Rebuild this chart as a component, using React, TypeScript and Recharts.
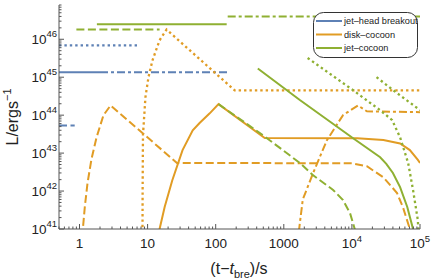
import React from "react";
import { LineChart, Line, XAxis, YAxis } from "recharts";

const BLUE = "#5e81b5";
const ORANGE = "#e19c24";
const GREEN = "#8fb032";
const AXIS = "#555";
const TEXT = "#222";
const FONT = "'Liberation Sans', Arial, sans-serif";

// [t (s), L (erg/s)]
// jet-head breakout
const headSolid = [[0.5, 1.35e45], [2, 1.35e45]];
const headDotDash = [[2, 1.35e45], [150, 1.35e45]];
const headDotted = [[0.5, 6.9e45], [7.6, 6.9e45]];
const headDashed = [[0.5, 5.3e43], [0.85, 5.3e43]];

// disk-cocoon
const diskSolid = [
  [14, 3e40], [15, 1e41], [17.8, 3.8e41], [23, 1.9e42], [32.6, 1.2e43], [46, 4e43],
  [58, 6.2e43], [81, 1.1e44], [110, 1.95e44], [525, 2.5e43], [1.2e4, 2.45e43],
  [2.9e4, 2.2e43], [5.1e4, 1.8e43], [7.1e4, 1.2e43], [9.3e4, 6.6e42], [1e5, 5.5e42],
];
const diskDashed = [
  [1.08, 3e40], [1.12, 1e41], [1.2, 4e41], [1.31, 1.6e42], [1.5, 7e42], [1.78, 2.6e43],
  [2.25, 1e44], [2.86, 1.8e44], [27, 5.5e42], [1e4, 5.4e42], [1.66e4, 4.5e42],
  [2.9e4, 2.3e42], [4.6e4, 8.9e41], [5.6e4, 3.8e41], [7.1e4, 1e41], [7.6e4, 4e40],
];
const diskDotDash = [
  [1600, 3e40], [1680, 1e41], [1900, 6e41], [2700, 3e42], [4300, 2.2e43], [7400, 1e44],
  [1.23e4, 1.8e44], [1.66e4, 1.26e44], [1e5, 1.2e44],
];
const diskDotted = [
  [8.4, 3e40], [8.45, 1e42], [8.55, 3e43], [9.3, 3e44], [10.3, 1e45], [11.8, 2.8e45],
  [15, 9.4e45], [19, 1.8e46], [190, 4.5e44], [1e5, 4.5e44],
];

// jet-cocoon
const jetSolidTop = [[1.8, 2.5e46], [145, 2.5e46]];
const jetDashedTop = [[0.9, 1.8e46], [15, 1.8e46]];
const jetDotDashTop = [[150, 4e46], [1e5, 4e46]];
const jetSolid = [
  [415, 1.7e45], [1720, 2.5e44], [1.03e4, 2.5e43], [2.6e4, 7.8e42], [3.2e4, 5.2e42],
  [4e4, 3e42], [5.1e4, 1.27e42], [6.5e4, 3.8e41], [7.9e4, 1e41], [8.5e4, 3e40],
];
const jetDashed = [
  [110, 1.95e44], [490, 3e43], [1720, 5.5e42], [2700, 2.6e42], [5300, 1.07e42],
  [7400, 5.8e41], [9400, 2.6e41], [1.1e4, 1e41], [1.2e4, 4e40],
];
const jetDotted1 = [
  [2240, 3.2e45], [1.03e4, 4.6e44], [2.6e4, 1.35e44], [3.9e4, 7.4e43], [5.1e4, 2.6e43],
  [6.7e4, 5.5e42], [7.9e4, 1.07e42], [9.3e4, 1.7e41], [9.7e4, 4e40],
];
const jetDotted2 = [[2.3e4, 1e45], [4.6e4, 3.8e44], [9.3e4, 1.5e44], [1e5, 1.35e44]];

const legendNames = ["jet\u2013head breakout", "disk\u2013cocoon", "jet\u2013cocoon"];
const legendColors = [BLUE, ORANGE, GREEN];

const xMajor = [1, 10, 100, 1000, 1e4, 1e5];
const yMajor = [1e41, 1e42, 1e43, 1e44, 1e45, 1e46];
const mant = [1, 2, 3, 4, 5, 6, 7, 8, 9];

const xTicks = [0.1, 1, 10, 100, 1000, 1e4]
  .flatMap((d) => mant.map((m) => m * d))
  .filter((v) => v >= 0.5)
  .concat([1e5]);
const yTicks = yMajor.flatMap((d) => mant.map((m) => m * d)).filter((v) => v <= 8e46);

const DOT = "2.4 3";
const DASH = "8 3.5";
const DOTDASH = "8 3 3 3";

const series = [
  { d: headSolid, c: BLUE, s: undefined },
  { d: headDotDash, c: BLUE, s: DOTDASH },
  { d: headDotted, c: BLUE, s: DOT },
  { d: headDashed, c: BLUE, s: DASH },
  { d: diskSolid, c: ORANGE, s: undefined },
  { d: diskDashed, c: ORANGE, s: DASH },
  { d: diskDotDash, c: ORANGE, s: DOTDASH },
  { d: diskDotted, c: ORANGE, s: DOT },
  { d: jetSolidTop, c: GREEN, s: undefined },
  { d: jetDashedTop, c: GREEN, s: DASH },
  { d: jetDotDashTop, c: GREEN, s: DOTDASH },
  { d: jetSolid, c: GREEN, s: undefined },
  { d: jetDashed, c: GREEN, s: DASH },
  { d: jetDotted1, c: GREEN, s: DOT },
  { d: jetDotted2, c: GREEN, s: DOT },
];

const toRows = (arr: number[][]) => arr.map(([t, L]) => ({ t, L }));

const Sup = ({ e, dy }: { e: number; dy: number }) => (
  <tspan dy={dy} fontSize={9.5}>
    {e}
  </tspan>
);

function BottomTick({ x, y, payload }: any) {
  const v = payload.value as number;
  const major = xMajor.includes(v);
  const e = Math.round(Math.log10(v));
  return (
    <g>
      <line x1={x} x2={x} y1={y} y2={y - (major ? 5 : 2.5)} stroke={AXIS} />
      {major && (
        <text x={x} y={y + 19} textAnchor="middle" fontSize={13.5} fill={TEXT} fontFamily={FONT}>
          {v < 1e4 ? String(v) : "10"}
          {v >= 1e4 && <Sup e={e} dy={-6} />}
        </text>
      )}
    </g>
  );
}

function TopTick({ x, y, payload }: any) {
  const major = xMajor.includes(payload.value);
  return <line x1={x} x2={x} y1={y} y2={y + (major ? 5 : 2.5)} stroke={AXIS} />;
}

function LeftTick({ x, y, payload }: any) {
  const v = payload.value as number;
  const major = yMajor.includes(v);
  const e = Math.round(Math.log10(v));
  return (
    <g>
      <line x1={x} x2={x + (major ? 5 : 2.5)} y1={y} y2={y} stroke={AXIS} />
      {major && (
        <text x={x - 2} y={y + 5} textAnchor="end" fontSize={13.5} fill={TEXT} fontFamily={FONT}>
          10
          <Sup e={e} dy={-7} />
        </text>
      )}
    </g>
  );
}

function RightTick({ x, y, payload }: any) {
  const major = yMajor.includes(payload.value);
  return <line x1={x} x2={x - (major ? 5 : 2.5)} y1={y} y2={y} stroke={AXIS} />;
}

const XTitle = () => (
  <text x={239} y={274} textAnchor="middle" fontSize={16} fill={TEXT} fontFamily={FONT}>
    (t{"\u2212"}
    <tspan fontStyle="italic">t</tspan>
    <tspan dy={4} fontSize={11}>
      bre
    </tspan>
    <tspan dy={-4}>)/s</tspan>
  </text>
);

const YTitle = () => (
  <text
    x={14}
    y={117}
    transform="rotate(-90 14 117)"
    textAnchor="middle"
    dominantBaseline="middle"
    fontSize={16}
    fill={TEXT}
    fontFamily={FONT}
  >
    L/ergs
    <tspan dy={-6} fontSize={11}>
      {"\u2212"}1
    </tspan>
  </text>
);

export default function App() {
  return (
    <div style={{ position: "absolute", left: 0, top: 0, width: 432, height: 280 }}>
      <LineChart width={432} height={280} margin={{ top: 5, right: 12, bottom: 0, left: 0 }}>
        <XAxis
          xAxisId="b"
          dataKey="t"
          type="number"
          scale="log"
          domain={[0.5, 1e5]}
          allowDataOverflow
          ticks={xTicks}
          interval={0}
          tick={<BottomTick />}
          tickLine={false}
          tickSize={0}
          tickMargin={0}
          height={51}
          axisLine={{ stroke: AXIS }}
          label={{ content: () => <XTitle /> }}
        />
        <XAxis
          xAxisId="t"
          orientation="top"
          type="number"
          scale="log"
          domain={[0.5, 1e5]}
          allowDataOverflow
          ticks={xTicks}
          interval={0}
          tick={<TopTick />}
          tickLine={false}
          tickSize={0}
          tickMargin={0}
          height={0}
          axisLine={{ stroke: AXIS }}
        />
        <YAxis
          yAxisId="l"
          type="number"
          scale="log"
          domain={[1e41, 8e46]}
          allowDataOverflow
          ticks={yTicks}
          interval={0}
          tick={<LeftTick />}
          tickLine={false}
          tickSize={0}
          tickMargin={0}
          width={59}
          axisLine={{ stroke: AXIS }}
          label={{ content: () => <YTitle /> }}
        />
        <YAxis
          yAxisId="r"
          orientation="right"
          type="number"
          scale="log"
          domain={[1e41, 8e46]}
          allowDataOverflow
          ticks={yTicks}
          interval={0}
          tick={<RightTick />}
          tickLine={false}
          tickSize={0}
          tickMargin={0}
          width={0}
          axisLine={{ stroke: AXIS }}
        />
        {series.map((s, i) => (
          <Line
            key={i}
            xAxisId="b"
            yAxisId="l"
            data={toRows(s.d)}
            dataKey="L"
            type="linear"
            stroke={s.c}
            strokeWidth={s.s === DOT ? 2.3 : 2}
            strokeDasharray={s.s}
            dot={false}
            activeDot={false}
            isAnimationActive={false}
          />
        ))}
      </LineChart>
      <svg
        width={432}
        height={280}
        style={{ position: "absolute", left: 0, top: 0, pointerEvents: "none" }}
      >
        <rect x={313.5} y={12.5} width={104} height={45} rx={10} fill="#fff" stroke="#333" />
        {legendNames.map((n, i) => {
          const ly = 21 + i * 13.5;
          return (
            <g key={n}>
              <line x1={316} x2={342} y1={ly} y2={ly} stroke={legendColors[i]} strokeWidth={2} />
              <text x={344} y={ly + 3.3} fontSize={9.2} fill={TEXT} fontFamily={FONT}>
                {n}
              </text>
            </g>
          );
        })}
      </svg>
    </div>
  );
}
